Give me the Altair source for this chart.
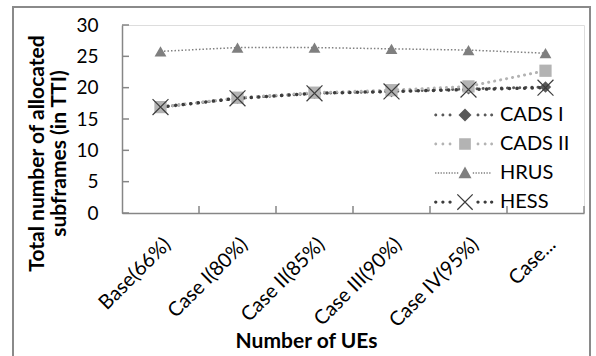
import altair as alt
import pandas as pd

categories = ["Base(66%)", "Case I(80%)", "Case II(85%)", "Case III(90%)", "Case IV(95%)", "Case..."]
series_names = ["CADS I", "CADS II", "HRUS", "HESS"]
cads1 = [16.9, 18.3, 19.1, 19.4, 19.8, 20.1]
cads2 = [16.9, 18.4, 19.2, 19.6, 20.2, 22.7]
hrus = [25.8, 26.4, 26.4, 26.2, 26.0, 25.5]
hess = [16.9, 18.3, 19.1, 19.4, 19.7, 20.0]
y_ticks = [0, 5, 10, 15, 20, 25, 30]

rows = []
for name, vals in zip(series_names, [cads1, cads2, hrus, hess]):
    for c, v in zip(categories, vals):
        rows.append({"case": c, "series": name, "value": v})
df = pd.DataFrame(rows)

FONT = "Lato"
AXIS_GRAY = "#868686"
colors = ["#595959", "#b3b3b3", "#7f7f7f", "#3c3c3c"]


def x_shape(a, t):
    return (f"M{-a+t},{-a}L{a},{a-t}L{a-t},{a}L{-a},{-a+t}Z"
            f"M{a-t},{-a}L{a},{-a+t}L{-a+t},{a}L{-a},{a-t}Z")


x_path = x_shape(1, 0.1)
point_styles = {
    "CADS I": dict(shape="diamond", size=130),
    "CADS II": dict(shape="square", size=150),
    "HRUS": dict(shape="triangle-up", size=140),
    "HESS": dict(shape=x_path, size=280),
}
line_styles = {
    "CADS I": dict(strokeDash=[0.1, 6], strokeWidth=3, strokeCap="round"),
    "CADS II": dict(strokeDash=[0.1, 6], strokeWidth=3, strokeCap="round"),
    "HRUS": dict(strokeDash=[1.5, 2], strokeWidth=1.5, strokeCap="butt"),
    "HESS": dict(strokeDash=[0.1, 7.5], strokeWidth=3.5, strokeCap="round"),
}


# legend symbols: marker with a short dotted line on each side (unit = 6.5 px)
def dots(positions, r):
    return "".join(f"M{p - r},0a{r},{r} 0 1,0 {2 * r},0a{r},{r} 0 1,0 {-2 * r},0" for p in positions)


def fine_dots(start, end, step, s):
    out = ""
    p = start
    while p <= end:
        out += f"M{p:.2f},{-s / 2}h{s}v{s}h{-s}Z"
        p += step
    return out


side_dots = [-4.5, -3.4, -2.3, 2.0, 3.1, 4.1]
legend_shapes = [
    "M0,-1L1,0L0,1L-1,0Z" + dots(side_dots, 0.23),
    "M-0.9,-0.9H0.9V0.9H-0.9Z" + dots(side_dots, 0.22),
    "M0,-1L1,0.8L-1,0.8Z" + fine_dots(-4.6, -1.2, 0.42, 0.2) + fine_dots(1.2, 4.1, 0.42, 0.2),
    x_shape(1.25, 0.14) + dots(side_dots, 0.25),
]

x_scale = alt.Scale(type="band", domain=categories, paddingInner=0, paddingOuter=0)
y_scale = alt.Scale(domain=[0, 30], nice=False)

x_axis = alt.Axis(title="Number of UEs", labelAngle=-45, labelFontSize=20,
                  labelFont=FONT, labelColor="black", titleFont=FONT,
                  titleFontSize=21, titleFontWeight="bold", titleColor="black",
                  titleX=184, titleY=128, titleBaseline="middle",
                  domainColor=AXIS_GRAY, domainWidth=1.5,
                  ticks=False, tickSize=0, labelPadding=21)
y_axis = alt.Axis(values=y_ticks, title=["Total number of allocated", "subframes (in TTI)"],
                  grid=False, labelFontSize=19, labelFont=FONT, labelColor="black",
                  titleFont=FONT, titleFontSize=21, titleFontWeight="bold",
                  titleColor="black", titleLineHeight=22,
                  titleX=-85, titleY=128, titleAlign="center", titleBaseline="middle",
                  domainColor=AXIS_GRAY, domainWidth=1.5,
                  ticks=False, tickSize=0, labelPadding=24)

x_enc = alt.X("case:N", sort=categories, scale=x_scale, axis=x_axis)
y_enc = alt.Y("value:Q", scale=y_scale, axis=y_axis)

line_layers = []
point_layers = []
for name, col in zip(series_names, colors):
    base = alt.Chart(df).transform_filter(alt.datum.series == name)
    line_layers.append(base.mark_line(color=col, **line_styles[name]).encode(x=x_enc, y=y_enc))
    point_layers.append(
        base.mark_point(fill=col, stroke=None, strokeWidth=0, filled=True, opacity=1,
                        **point_styles[name]).encode(x=x_enc, y=y_enc)
    )

# layer that draws no marks (all values are positive) and only carries the legend
legend_layer = alt.Chart(df).transform_filter(alt.datum.value < 0).mark_point(
    filled=True, size=169, opacity=1
).encode(
    x=x_enc, y=y_enc,
    color=alt.Color("series:N", scale=alt.Scale(domain=series_names, range=colors),
                    legend=alt.Legend(title=None, orient="none", legendX=333, legendY=80,
                                      labelFont=FONT, labelFontSize=20, labelColor="black",
                                      labelOffset=25, rowPadding=9, padding=0,
                                      symbolSize=169, symbolStrokeWidth=0, symbolOpacity=1)),
    shape=alt.Shape("series:N", scale=alt.Scale(domain=series_names, range=legend_shapes)),
)

# inward-pointing tick marks, drawn through the same scales
y_tick_marks = alt.Chart(pd.DataFrame({"value": y_ticks})).mark_rule(
    color=AXIS_GRAY, strokeWidth=1.5
).encode(y=alt.Y("value:Q", scale=y_scale, axis=y_axis), x=alt.value(0), x2=alt.value(7))

x_tick_marks = alt.Chart(pd.DataFrame({"case": categories})).mark_rule(
    color=AXIS_GRAY, strokeWidth=1.5
).encode(x=alt.X("case:N", sort=categories, scale=x_scale, bandPosition=1, axis=x_axis),
         y=alt.value(188), y2=alt.value(181))

border = alt.Chart(pd.DataFrame({"b": [0]})).mark_rect(
    fill=None, stroke="#8a8a8a", strokeWidth=2
).encode(x=alt.value(-109), x2=alt.value(468), y=alt.value(-18), y2=alt.value(334))

chart = alt.layer(border, y_tick_marks, x_tick_marks, *line_layers, *point_layers,
                  legend_layer).properties(
    width=462, height=188, padding={"left": 12, "top": 6, "right": 5, "bottom": 0}
).configure_view(stroke=None).configure(background="white")

chart.save("out.html", embed_options={"renderer": "svg", "actions": False})
